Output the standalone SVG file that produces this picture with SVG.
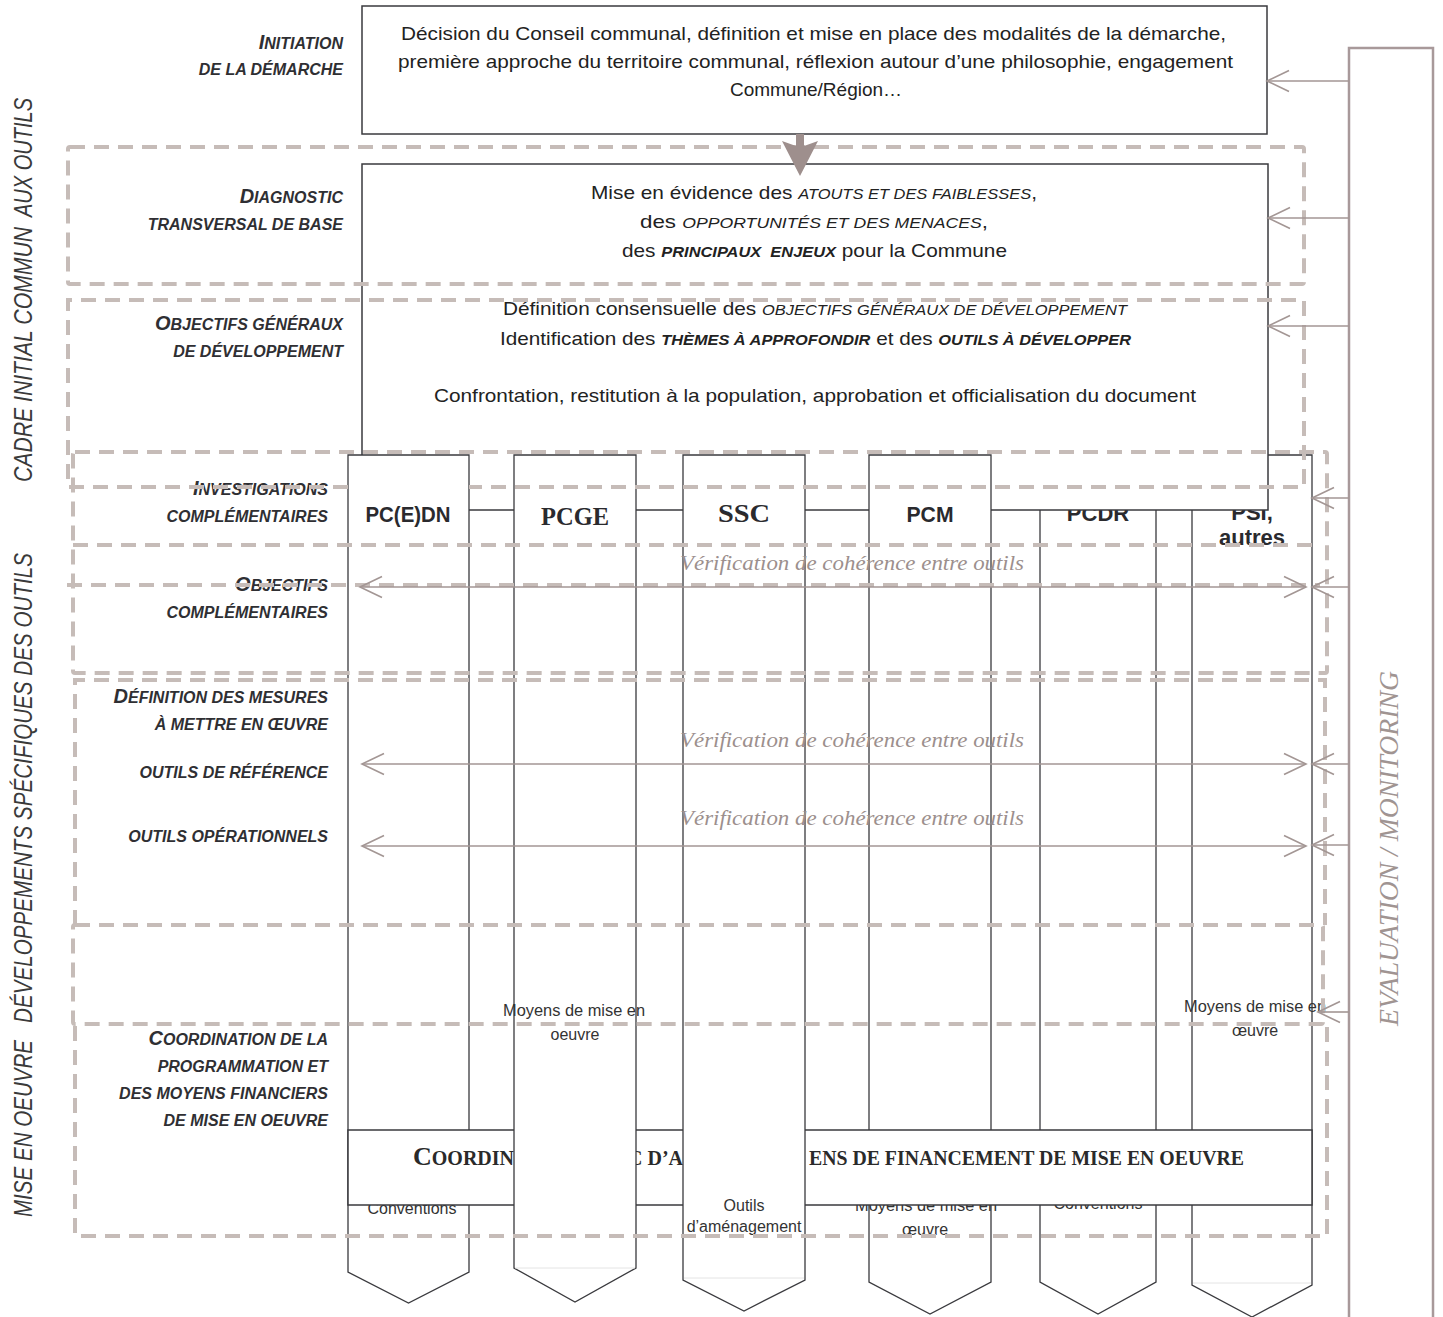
<svg xmlns="http://www.w3.org/2000/svg" width="1443" height="1317" viewBox="0 0 1443 1317">
<style>
.bg{fill:#fff}
.box{fill:#fff;stroke:#3a3a3e;stroke-width:1.5}
.col{fill:#fff;stroke:#3a3a3e;stroke-width:1.3}
.faint{stroke:#e4e4e4;stroke-width:1}
.dash{fill:none;stroke:#c6bcb8;stroke-width:4;stroke-dasharray:15 9}
.conn{fill:none;stroke:#a39694;stroke-width:1.6}
.mon{fill:#fff;stroke:#a8999a;stroke-width:2.5}
.lbl{font-family:"Liberation Sans",Arial,sans-serif;font-weight:bold;font-style:italic;font-size:16px;fill:#2f2f33;text-anchor:end}
.ini{font-size:20px}
.body{font-family:"Liberation Sans",Arial,sans-serif;font-size:19px;fill:#222}
.it{font-style:italic;font-size:15px}
.bi{font-style:italic;font-weight:bold;font-size:15px}
.vl{font-family:"Liberation Sans",Arial,sans-serif;font-style:italic;font-size:26px;fill:#3a3a3a}
.verif{font-family:"Liberation Serif","Times New Roman",serif;font-style:italic;font-size:21px;fill:#9c8f8d}
.hs{font-family:"Liberation Sans",Arial,sans-serif;font-weight:bold;font-size:22px;fill:#2a2a2e;text-anchor:middle}
.hr{font-family:"Liberation Serif","Times New Roman",serif;font-weight:bold;font-size:25px;fill:#2a2a2e;text-anchor:middle}
.sm{font-family:"Liberation Sans",Arial,sans-serif;font-size:16px;fill:#333;text-anchor:middle}
.coord{font-family:"Liberation Serif","Times New Roman",serif;font-weight:bold;font-size:20px;fill:#2a2a2a}
.mtext{font-family:"Liberation Serif","Times New Roman",serif;font-style:italic;font-size:28px;fill:#a09492}
</style>
<defs>
<marker id="open" viewBox="-25 -15 30 30" markerWidth="30" markerHeight="30" refX="0" refY="0" orient="auto-start-reverse" markerUnits="userSpaceOnUse" overflow="visible">
<path d="M-22,-10.5 L0,0 L-22,10.5" fill="none" stroke="#a39694" stroke-width="1.6"/>
</marker>
</defs>
<rect class="bg" x="0" y="0" width="1443" height="1317"/>

<g id="side-labels">
<text class="vl" transform="translate(32,482) rotate(-90)" textLength="255" lengthAdjust="spacingAndGlyphs">CADRE INITIAL COMMUN</text>
<text class="vl" transform="translate(32,217) rotate(-90)" textLength="119" lengthAdjust="spacingAndGlyphs">AUX OUTILS</text>
<text class="vl" transform="translate(32,1217) rotate(-90)" textLength="177" lengthAdjust="spacingAndGlyphs">MISE EN OEUVRE</text>
<text class="vl" transform="translate(32,1023) rotate(-90)" textLength="470" lengthAdjust="spacingAndGlyphs">DÉVELOPPEMENTS SPÉCIFIQUES DES OUTILS</text>
</g>

<g id="row-labels">
<text class="lbl" x="343" y="49"><tspan class="ini">I</tspan>NITIATION</text>
<text class="lbl" x="343" y="75">DE LA DÉMARCHE</text>
<text class="lbl" x="343" y="203"><tspan class="ini">D</tspan>IAGNOSTIC</text>
<text class="lbl" x="343" y="230">TRANSVERSAL DE BASE</text>
<text class="lbl" x="343" y="330"><tspan class="ini">O</tspan>BJECTIFS GÉNÉRAUX</text>
<text class="lbl" x="343" y="357">DE DÉVELOPPEMENT</text>
<text class="lbl" x="328" y="495"><tspan class="ini">I</tspan>NVESTIGATIONS</text>
<text class="lbl" x="328" y="522">COMPLÉMENTAIRES</text>
<text class="lbl" x="328" y="591"><tspan class="ini">O</tspan>BJECTIFS</text>
<text class="lbl" x="328" y="618">COMPLÉMENTAIRES</text>
<text class="lbl" x="328" y="703"><tspan class="ini">D</tspan>ÉFINITION DES MESURES</text>
<text class="lbl" x="328" y="730">À METTRE EN ŒUVRE</text>
<text class="lbl" x="328" y="778">OUTILS DE RÉFÉRENCE</text>
<text class="lbl" x="328" y="842">OUTILS OPÉRATIONNELS</text>
<text class="lbl" x="328" y="1045"><tspan class="ini">C</tspan>OORDINATION DE LA</text>
<text class="lbl" x="328" y="1072">PROGRAMMATION ET</text>
<text class="lbl" x="328" y="1099">DES MOYENS FINANCIERS</text>
<text class="lbl" x="328" y="1126">DE MISE EN OEUVRE</text>
</g>

<g id="col-pcdr">
<path class="col" d="M1040,455 H1156 V1282 L1098,1314 L1040,1282 Z"/>
<text class="hs" x="1098" y="521" font-size="21">PCDR</text>
<text class="sm" x="1098" y="1209">Conventions</text>
</g>

<g id="col-psi">
<path class="col" d="M1192,455 H1312 V1285 L1252,1317 L1192,1285 Z"/>
<line class="faint" x1="1193" y1="1283" x2="1311" y2="1283"/>
<text class="hs" x="1252" y="520" font-size="17">PSI,</text>
<text class="hs" x="1252" y="545" font-size="17">autres</text>
<text class="sm" x="1184" y="1012" style="text-anchor:start" textLength="142" lengthAdjust="spacingAndGlyphs">Moyens de mise en</text>
<text class="sm" x="1255" y="1036">œuvre</text>
</g>

<g id="node-diagnostic">
<rect class="box" x="362" y="164" width="906" height="346"/>
<text class="body" x="591" y="199" textLength="446" lengthAdjust="spacingAndGlyphs">Mise en évidence des <tspan class="it">ATOUTS ET DES FAIBLESSES</tspan>,</text>
<text class="body" x="640" y="228" textLength="348" lengthAdjust="spacingAndGlyphs">des <tspan class="it">OPPORTUNITÉS ET DES MENACES</tspan>,</text>
<text class="body" x="622" y="257" textLength="385" lengthAdjust="spacingAndGlyphs">des <tspan class="bi">PRINCIPAUX&#160; ENJEUX</tspan> pour la Commune</text>
<text class="body" x="503" y="315" textLength="624" lengthAdjust="spacingAndGlyphs">Définition consensuelle des <tspan class="it">OBJECTIFS GÉNÉRAUX DE DÉVELOPPEMENT</tspan></text>
<text class="body" x="500" y="345" textLength="631" lengthAdjust="spacingAndGlyphs">Identification des <tspan class="bi">THÈMES À APPROFONDIR</tspan> et des <tspan class="bi">OUTILS À DÉVELOPPER</tspan></text>
<text class="body" x="434" y="402" textLength="762" lengthAdjust="spacingAndGlyphs">Confrontation, restitution à la population, approbation et officialisation du document</text>
</g>

<g id="col-pcedn">
<path class="col" d="M348,455 H469 V1272 L408.5,1303 L348,1272 Z"/>
<text class="hs" x="408" y="522" textLength="85" lengthAdjust="spacingAndGlyphs">PC(E)DN</text>
<text class="sm" x="412" y="1214">Conventions</text>
</g>

<g id="col-pcm">
<path class="col" d="M869,455 H991 V1282 L930,1314 L869,1282 Z"/>
<text class="hs" x="930" y="522" textLength="47" lengthAdjust="spacingAndGlyphs">PCM</text>
<text class="sm" x="855" y="1211" style="text-anchor:start" textLength="142" lengthAdjust="spacingAndGlyphs">Moyens de mise en</text>
<text class="sm" x="925" y="1235">œuvre</text>
</g>

<g id="node-coordination">
<rect class="box" x="348" y="1130" width="964" height="75"/>
<text class="coord" x="413" y="1165"><tspan font-size="26">C</tspan>OORDIN</text>
<text class="coord" x="628" y="1165">C D’A</text>
<text class="coord" x="809" y="1165" textLength="435" lengthAdjust="spacingAndGlyphs">ENS DE FINANCEMENT DE MISE EN OEUVRE</text>
</g>

<g id="col-pcge">
<path class="col" d="M514,455 H636 V1268 L575,1302 L514,1268 Z"/>
<line class="faint" x1="515" y1="1268" x2="635" y2="1268"/>
<text class="hr" x="575" y="525" textLength="68" lengthAdjust="spacingAndGlyphs">PCGE</text>
<text class="sm" x="503" y="1016" style="text-anchor:start" textLength="142" lengthAdjust="spacingAndGlyphs">Moyens de mise en</text>
<text class="sm" x="575" y="1040">oeuvre</text>
</g>

<g id="col-ssc">
<path class="col" d="M683,455 H805 V1280 L744,1311 L683,1280 Z"/>
<line class="faint" x1="684" y1="1278" x2="804" y2="1278"/>
<text class="hr" x="744" y="522" textLength="52" lengthAdjust="spacingAndGlyphs">SSC</text>
<text class="sm" x="744" y="1211">Outils</text>
<text class="sm" x="744" y="1232">d’aménagement</text>
</g>

<g id="node-initiation">
<rect class="box" x="362" y="6" width="905" height="128"/>
<text class="body" x="401" y="40" textLength="825" lengthAdjust="spacingAndGlyphs">Décision du Conseil communal, définition et mise en place des modalités de la démarche,</text>
<text class="body" x="398" y="68" textLength="835" lengthAdjust="spacingAndGlyphs">première approche du territoire communal, réflexion autour d’une philosophie, engagement</text>
<text class="body" x="816" y="96" text-anchor="middle">Commune/Région…</text>
</g>

<g id="phases">
<rect class="dash" x="68" y="147" width="1236" height="137" rx="2"/>
<path class="dash" d="M348,487 H68 V300 H1304 V487 H469"/>
<rect class="dash" x="73" y="452" width="1254" height="221" rx="2"/>
<path class="dash" d="M73,545 H1318"/>
<path class="dash" d="M67,585 H1320"/>
<path class="dash" d="M75,925 V680 H1325 V925"/>
<rect class="dash" x="73" y="925" width="1250" height="99" rx="2"/>
<path class="dash" d="M75,1026 V1236 H1327 V1026"/>
</g>

<g id="node-monitoring">
<rect class="mon" x="1349" y="48" width="84" height="1290"/>
<text class="mtext" transform="translate(1398,1026) rotate(-90)" textLength="355" lengthAdjust="spacingAndGlyphs">EVALUATION / MONITORING</text>
</g>

<g id="connectors">
<polygon points="782,141 796,146 796,134 804,134 804,146 818,141 800,176" fill="#9e8f8d"/>
<line class="conn" x1="1349" y1="81" x2="1267" y2="81" marker-end="url(#open)"/>
<line class="conn" x1="1349" y1="218" x2="1268" y2="218" marker-end="url(#open)"/>
<line class="conn" x1="1349" y1="326" x2="1268" y2="326" marker-end="url(#open)"/>
<line class="conn" x1="1349" y1="498" x2="1312" y2="498" marker-end="url(#open)"/>
<line class="conn" x1="1349" y1="587" x2="1312" y2="587" marker-end="url(#open)"/>
<line class="conn" x1="1349" y1="764" x2="1312" y2="764" marker-end="url(#open)"/>
<line class="conn" x1="1349" y1="845" x2="1312" y2="845" marker-end="url(#open)"/>
<line class="conn" x1="1349" y1="1012" x2="1318" y2="1012" marker-end="url(#open)"/>
<line class="conn" x1="360" y1="587" x2="1306" y2="587" marker-start="url(#open)" marker-end="url(#open)"/>
<line class="conn" x1="362" y1="764" x2="1306" y2="764" marker-start="url(#open)" marker-end="url(#open)"/>
<line class="conn" x1="362" y1="846" x2="1306" y2="846" marker-start="url(#open)" marker-end="url(#open)"/>
<text class="verif" x="680" y="570" textLength="344" lengthAdjust="spacingAndGlyphs">Vérification de cohérence entre outils</text>
<text class="verif" x="680" y="747" textLength="344" lengthAdjust="spacingAndGlyphs">Vérification de cohérence entre outils</text>
<text class="verif" x="680" y="825" textLength="344" lengthAdjust="spacingAndGlyphs">Vérification de cohérence entre outils</text>
</g>
</svg>
